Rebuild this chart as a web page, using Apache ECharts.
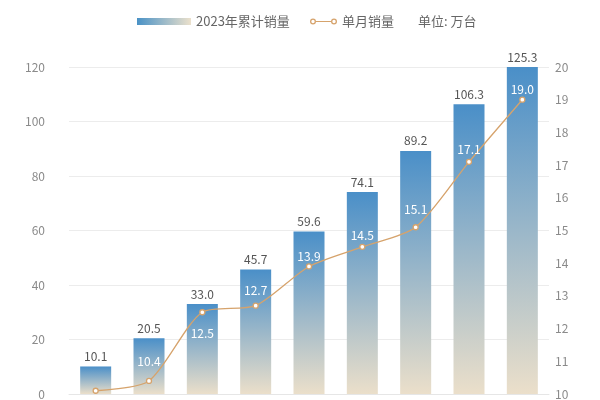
<!DOCTYPE html>
<html>
<head>
<meta charset="utf-8">
<script src="https://cdn.jsdelivr.net/npm/echarts@6/dist/echarts.min.js"></script>
<style>html,body{margin:0;padding:0;background:#fff}#c{width:600px;height:400px}</style>
</head>
<body>
<div id="c"></div>
<script>
const categories = ['1月','2月','3月','4月','5月','6月','7月','8月','9月'];
const cumulative = [10.1, 20.5, 33.0, 45.7, 59.6, 74.1, 89.2, 106.3, 125.3];
const monthly = [10.1, 10.4, 12.5, 12.7, 13.9, 14.5, 15.1, 17.1, 19.0];
const leftTicks = [0, 120, 20];
const rightTicks = [10, 20, 1];

const chart = echarts.init(document.getElementById('c'));
const lineColor = '#d6a36c';
const ringPath = 'path://M0,3a3,3 0 1,0 6,0a3,3 0 1,0 -6,0Z M1.3,3a1.7,1.7 0 1,1 3.4,0a1.7,1.7 0 1,1 -3.4,0Z M6,2.5h15v1h-15Z M21,3a3,3 0 1,0 6,0a3,3 0 1,0 -6,0Z M22.3,3a1.7,1.7 0 1,1 3.4,0a1.7,1.7 0 1,1 -3.4,0Z';

// label placement tweaks for the monthly series (style only)
const labelPlace = {
  0: { show: false },
  1: { position: 'top', distance: 10 },
  2: { position: 'bottom', distance: 12 },
  3: { position: 'top', distance: 6 },
  4: { position: 'top', distance: 1 },
  5: { position: 'top', distance: 2 },
  6: { position: 'top', distance: 9 },
  7: { position: 'top', distance: 3 },
  8: { position: 'top', distance: 1 }
};
const monthlyData = monthly.map((v, i) => ({ value: v, label: labelPlace[i] }));

chart.setOption({
  animation: false,
  textStyle: { fontFamily: 'Noto Sans CJK SC, sans-serif' },
  legend: [
    {
      left: 137, top: 15, padding: 0, itemWidth: 54, itemHeight: 7, itemGap: 20,
      textStyle: { color: '#666', fontSize: 13 },
      data: [{
        name: '2023年累计销量', icon: 'rect',
        itemStyle: { color: new echarts.graphic.LinearGradient(0, 0, 1, 0, [
          { offset: 0, color: '#4a92c6' }, { offset: 1, color: '#ece1cc' }]) }
      }]
    },
    {
      left: 310, top: 15, padding: 0, itemWidth: 27, itemHeight: 6,
      textStyle: { color: '#666', fontSize: 13 },
      data: [{ name: '单月销量', icon: ringPath, itemStyle: { color: lineColor, borderWidth: 0 } }]
    }
  ],
  graphic: [{
    type: 'text', left: 418, top: 15,
    style: { text: '单位: 万台', fill: '#666', fontSize: 13, fontFamily: 'Noto Sans CJK SC, sans-serif' }
  }],
  grid: { left: 69, right: 51, top: 67, bottom: 3.5 },
  xAxis: {
    type: 'category', data: categories,
    axisLine: { lineStyle: { color: '#e6e6e6' } },
    axisTick: { show: false },
    axisLabel: { show: false }
  },
  yAxis: [
    {
      type: 'value', min: leftTicks[0], max: leftTicks[1], interval: leftTicks[2],
      axisLine: { show: false }, axisTick: { show: false },
      axisLabel: { color: '#8a8a8a', fontSize: 12, margin: 24 },
      splitLine: { lineStyle: { color: '#ececec' } }
    },
    {
      type: 'value', min: rightTicks[0], max: rightTicks[1], interval: rightTicks[2],
      axisLine: { show: false }, axisTick: { show: false },
      axisLabel: { color: '#8a8a8a', fontSize: 12, margin: 6 },
      splitLine: { show: false }
    }
  ],
  series: [
    {
      name: '2023年累计销量', type: 'bar', data: cumulative, barWidth: 31,
      itemStyle: { color: new echarts.graphic.LinearGradient(0, 0, 0, 1, [
        { offset: 0, color: '#4a8fc8' }, { offset: 1, color: '#ebdfca' }]) },
      label: { show: true, position: 'top', distance: 4, color: '#555', fontSize: 12,
        formatter: p => p.value.toFixed(1) }
    },
    {
      name: '单月销量', type: 'line', yAxisIndex: 1, data: monthlyData,
      smooth: 0.25,
      symbol: 'circle', symbolSize: 5,
      lineStyle: { color: lineColor, width: 1.3 },
      itemStyle: { color: '#fff', borderColor: lineColor, borderWidth: 1.3 },
      label: { show: true, position: 'top', distance: 4, color: '#fff', fontSize: 12,
        formatter: p => p.value.toFixed(1) },
      z: 3
    }
  ]
});
</script>
</body>
</html>
